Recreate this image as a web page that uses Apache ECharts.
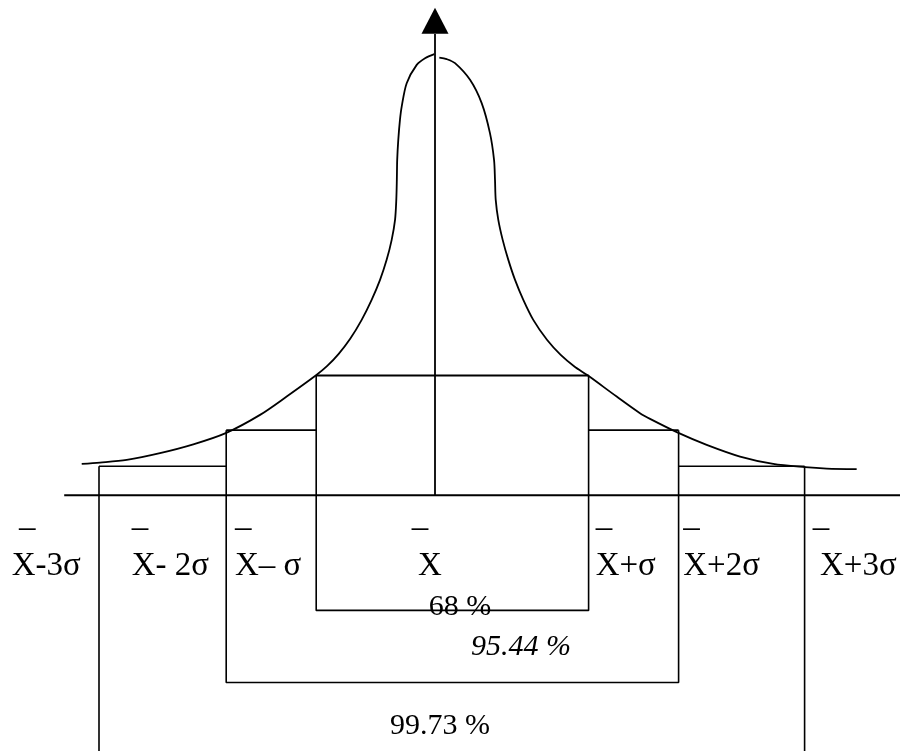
<!DOCTYPE html>
<html>
<head>
<meta charset="utf-8">
<title>3 sigma</title>
<script src="https://cdn.jsdelivr.net/npm/echarts@6/dist/echarts.min.js"></script>
<style>
  html, body { margin: 0; padding: 0; background: #fff; }
  #main { width: 900px; height: 751px; }
</style>
</head>
<body>
<div id="main"></div>
<script>
// x in sigma-ish units (0 = mean), y in height units (peak = 100)
const sigmaX = [-2.8, -1.74, -0.99, 0, 1.28, 2.03, 3.08]
const stepY = [6.61, 14.77, 27.13]        // 3σ, 2σ, σ step heights
const bracketY = [-26.05, -42.4, -62]     // 68 %, 95.44 %, 99.73 % brackets
const axisTop = 104.5
const arrowY = 107.5
const baseStart = -3.09

const curveLeft = [
  [-2.944, 7.13], [-2.792, 7.43], [-2.569, 8.04], [-2.292, 9.56], [-2.014, 11.55],
  [-1.744, 14.09], [-1.458, 18.23], [-1.236, 22.38], [-0.994, 27.13], [-0.898, 29.31],
  [-0.8025, 32.05], [-0.7067, 35.45], [-0.611, 39.75], [-0.528, 44.28], [-0.458, 48.81],
  [-0.403, 53.34], [-0.361, 57.87], [-0.333, 62.4], [-0.3225, 66.93], [-0.318, 71.46],
  [-0.315, 75.99], [-0.306, 80.52], [-0.292, 85.05], [-0.2775, 88.06], [-0.236, 93.36],
  [-0.1525, 97.51], [-0.083, 99.02], [-0.006, 99.93]
]
const curveRight = [
  [0.036, 99.16], [0.0975, 98.8], [0.167, 97.89], [0.292, 94.11], [0.389, 88.83],
  [0.458, 82.04], [0.492, 75.99], [0.5, 71.46], [0.506, 66.93], [0.5275, 62.4],
  [0.564, 57.87], [0.611, 53.34], [0.667, 48.81], [0.736, 44.28], [0.819, 39.75],
  [0.933, 35.24], [1.0475, 31.82], [1.1617, 29.2], [1.275, 27.13], [1.514, 22.38],
  [1.708, 18.62], [1.792, 17.33], [2.033, 14.09], [2.264, 11.44], [2.542, 8.79],
  [2.819, 7.13], [3.083, 6.39], [3.264, 6.07], [3.514, 5.93]
]

const sigmaLabels = ['X-3σ', 'X- 2σ', 'X– σ', 'X', 'X+σ', 'X+2σ', 'X+3σ']
const percentLabels = ['68 %', '95.44 %', '99.73 %']

// where the texts sit
const labelX = [-3.528, -2.528, -1.667, -0.142, 1.339, 2.069, 3.208]
const barX = [-3.467, -2.528, -1.667, -0.194, 1.339, 2.069, 3.148]
const labelY = -15.97
const barY = -7.45
const percentX = [0.208, 0.717, 0.042]
const percentY = [-25.25, -34.31, -52.3]

const font = "'Liberation Serif', 'Times New Roman', serif"
const black = '#000'

function seg(points, width) {
  return {
    type: 'line',
    data: points,
    symbol: 'none',
    silent: true,
    lineStyle: { color: black, width: width || 1.6 },
    animation: false
  }
}

// invisible points that only carry a text
function textLayer(data, align, size) {
  return {
    type: 'scatter',
    silent: true,
    animation: false,
    symbolSize: 0.1,
    itemStyle: { color: 'transparent', opacity: 1 },
    label: {
      show: true, position: 'inside', align: align, verticalAlign: 'middle',
      color: black, fontFamily: font, fontSize: size,
      textBorderWidth: 0, opacity: 1,
      formatter: p => p.name
    },
    data: data
  }
}

const X = sigmaX
const series = [
  // baseline and vertical axis
  seg([[baseStart, 0], [3.9, 0]], 2),
  seg([[0, 0], [0, axisTop]], 1.8),
  // curve
  Object.assign(seg(curveLeft, 1.8), { smooth: 0.3 }),
  Object.assign(seg(curveRight, 1.8), { smooth: 0.3 }),
  // steps
  seg([[X[2], stepY[2]], [X[4], stepY[2]]], 2),
  seg([[X[1], stepY[1]], [X[2], stepY[1]]]),
  seg([[X[4], stepY[1]], [X[5], stepY[1]]]),
  seg([[X[0], stepY[0]], [X[1], stepY[0]]]),
  seg([[X[5], stepY[0]], [X[6], stepY[0]]]),
  // brackets
  seg([[X[2], stepY[2]], [X[2], bracketY[0]], [X[4], bracketY[0]], [X[4], stepY[2]]]),
  seg([[X[1], stepY[1]], [X[1], bracketY[1]], [X[5], bracketY[1]], [X[5], stepY[1]]]),
  seg([[X[0], stepY[0]], [X[0], bracketY[2]], [X[6], bracketY[2]], [X[6], stepY[0]]]),
  // arrow head
  {
    type: 'scatter',
    silent: true,
    animation: false,
    symbol: 'triangle',
    symbolSize: [27, 26],
    itemStyle: { color: black, opacity: 1 },
    data: [[0, arrowY]]
  },
  textLayer(sigmaLabels.map((t, i) => ({ name: t, value: [labelX[i], labelY] })), 'left', 33),
  textLayer(barX.map(x => ({ name: '–', value: [x, barY] })), 'left', 33),
  textLayer(percentLabels.map((t, i) => ({
    name: t,
    value: [percentX[i], percentY[i]],
    label: { fontStyle: i === 1 ? 'italic' : 'normal' }
  })), 'center', 30)
]

const chart = echarts.init(document.getElementById('main'), null, { renderer: 'canvas' })
chart.setOption({
  backgroundColor: '#fff',
  animation: false,
  grid: { left: 0, right: 0, top: 0, bottom: 0 },
  xAxis: { type: 'value', min: -3.625, max: 3.875, show: false },
  yAxis: { type: 'value', min: -57.9, max: 112.2, show: false },
  series: series
})
</script>
</body>
</html>
